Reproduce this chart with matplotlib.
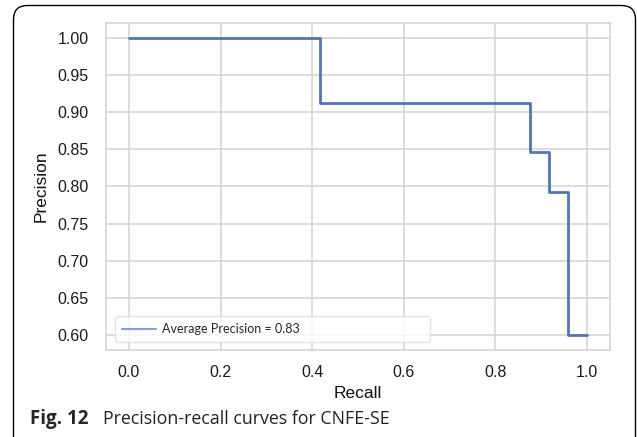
import matplotlib
matplotlib.use("Agg")
import matplotlib.pyplot as plt
import seaborn as sns
from matplotlib.patches import FancyBboxPatch

# --- data ---
recall = [1.0, 0.958, 0.917, 0.875, 0.417, 0.0]
precision = [0.60, 0.793, 0.846, 0.913, 1.0, 1.0]
avg_precision = 0.83
x_ticks = [0.0, 0.2, 0.4, 0.6, 0.8, 1.0]
y_ticks = [0.60, 0.65, 0.70, 0.75, 0.80, 0.85, 0.90, 0.95, 1.00]

LINE_COLOR = '#5176b6'
GRID_COLOR = '#d6d6d6'

sns.set_style('whitegrid')
plt.rcParams['font.family'] = ['Liberation Sans', 'DejaVu Sans']

fig = plt.figure(figsize=(6.37, 4.37), dpi=100)
ax = fig.add_axes([0.1664, 0.1991, 0.7912, 0.7483])

ax.plot(recall, precision, drawstyle='steps-post', color=LINE_COLOR, linewidth=2.0,
        label=f'Average Precision = {avg_precision:.2f}')

ax.set_xlim(-0.05, 1.05)
ax.set_ylim(0.58, 1.02)
ax.set_xticks(x_ticks)
ax.set_yticks(y_ticks)
ax.set_xticklabels([f'{v:.1f}' for v in x_ticks])
ax.set_yticklabels([f'{v:.2f}' for v in y_ticks])
ax.tick_params(axis='y', labelsize=11.5, colors='#1a1a1a', pad=9)
ax.tick_params(axis='x', labelsize=11.5, colors='#1a1a1a', pad=7)
ax.grid(color=GRID_COLOR, linewidth=1.2)
for s in ax.spines.values():
    s.set_color(GRID_COLOR)
    s.set_linewidth(1.2)

ax.set_xlabel('Recall', fontsize=12.5, color='#111111', labelpad=4.5)
ax.set_ylabel('Precision', fontsize=12.5, color='#111111', labelpad=6)

# wide legend box in lower left
leg = ax.legend(loc='lower left', bbox_to_anchor=(0.018, 0.0245, 0.625, 0.08), mode='expand',
                borderaxespad=0, prop={'family': 'Lato', 'size': 9}, frameon=True,
                fancybox=True, handlelength=2.7, borderpad=0.55, handletextpad=0.5)
leg.get_frame().set_edgecolor('#dddddd')
leg.get_frame().set_linewidth(1.0)
leg.get_lines()[0].set_color('#7f9fd8')
leg.get_lines()[0].set_linewidth(1.5)

# caption
fig.text(0.047, 0.041, 'Fig. 12', fontsize=13.5, fontweight='bold',
         family='Open Sans', ha='left', va='center')
fig.text(0.161, 0.041, 'Precision-recall curves for CNFE-SE', fontsize=12.8,
         family='Open Sans', ha='left', va='center', color='#222222')

# rounded frame round the figure panel (pixel coords)
frame = FancyBboxPatch((13.5, -30), 622, 432 + 30 - 0.5,
                       boxstyle='round,pad=0,rounding_size=14',
                       transform=None, facecolor='none', edgecolor='black',
                       linewidth=1.0)
fig.patches.append(frame)

fig.savefig('out.png', dpi=100)
